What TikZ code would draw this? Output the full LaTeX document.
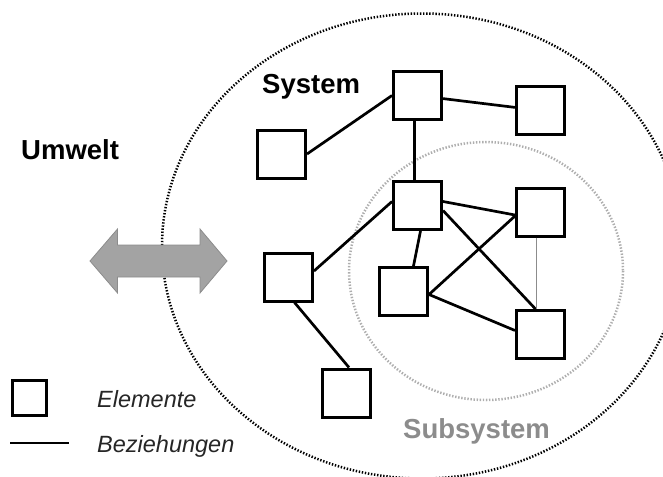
\documentclass[tikz,border=0pt]{standalone}
\usepackage{fontspec}
\setmainfont{Liberation Sans}
\usetikzlibrary{positioning}
\definecolor{subgray}{HTML}{8C8C8C}
\definecolor{arrowgray}{HTML}{A3A3A3}

\begin{document}
\begin{tikzpicture}[x=1pt,y=-1pt,
      elem/.style={draw,fill=white,line width=3pt,minimum size=48pt,inner sep=0pt},
      rel/.style={line width=2.7pt},
      weak/.style={line width=1pt,black!45},
      rim/.style={line width=2.5pt,dash pattern=on 1.4pt off 1.7pt},
      title/.style={font=\fontsize{27.5}{30}\selectfont\bfseries,inner sep=0pt,anchor=base west},
      legend/.style={font=\fontsize{23.5}{26}\selectfont\itshape,text=black!85,inner sep=0pt,anchor=base west}
    ]
      \useasboundingbox (0,0) rectangle (663,476);
      \clip (0,0) rectangle (663,476);
      % system and subsystem borders
      \draw[rim] (422,246) ellipse [x radius=260,y radius=232.5];
      \draw[rim,subgray!70] (486,271) ellipse [x radius=137,y radius=129];
      % exchange with the environment
      \filldraw[fill=arrowgray,draw=black!45,line width=0.8pt] (90,261) -- (117.5,229) -- (117.5,245) -- (200,245) -- (200,229) -- (227,261)
        -- (200,293) -- (200,277) -- (117.5,277) -- (117.5,293) -- cycle;
      % elements
      \node[elem] (top) at (417.5,95.5) {};
      \node[elem] (topright) at (540.5,110.5) {};
      \node[elem] (left) at (281.5,154) {};
      \node[elem] (hub) at (417.5,205.5) {};
      \node[elem] (subtr) at (540.5,212) {};
      \node[elem] (midleft) at (288.5,277) {};
      \node[elem] (subbl) at (403.5,291.5) {};
      \node[elem] (subbr) at (540.5,334.5) {};
      \node[elem] (bottom) at (346,393) {};
      % relations
      \draw[rel] (top) -- (topright);
      \draw[rel] (top.west) -- (left.east);
      \draw[rel] ([xshift=-3pt]top.south) -- ([xshift=-3pt]hub.north);
      \draw[rel] ([yshift=4pt]hub.west) -- ([yshift=6pt]midleft.east);
      \draw[rel] ([yshift=4pt]hub.east) -- ([yshift=-3pt]subtr.west);
      \draw[rel] ([yshift=-5pt]hub.east) -- ([xshift=-5pt]subbr.north);
      \draw[rel] ([xshift=3pt]hub.south) -- ([xshift=10pt]subbl.north);
      \draw[rel] ([yshift=-4pt]subtr.west) -- ([yshift=-3pt]subbl.east);
      \draw[rel] ([yshift=-3pt]subbl.east) -- ([yshift=4pt]subbr.west);
      \draw[weak] ([xshift=-4pt]subtr.south) -- ([xshift=-4pt]subbr.north);
      \draw[rel] ([xshift=6pt]midleft.south) -- ([xshift=3pt]bottom.north);
      % labels
      \node[title] (umwelt) at (21,159) {Umwelt};
      \node[title] (system) at (262,94) {System};
      \node[title,text=subgray] (subsystem) at (403,438) {Subsystem};
      % legend
      \node[elem,minimum width=34pt,minimum height=35pt] (legbox) at (29,398) {};
      \coordinate (legA) at (10,443);
      \coordinate (legB) at (69,443);
      \draw[rel] (legA) -- (legB);
      \node[legend] (elemente) at (97,407.5) {Elemente};
      \node[legend] (beziehungen) at (97,452) {Beziehungen};
    \end{tikzpicture}
\end{document}
